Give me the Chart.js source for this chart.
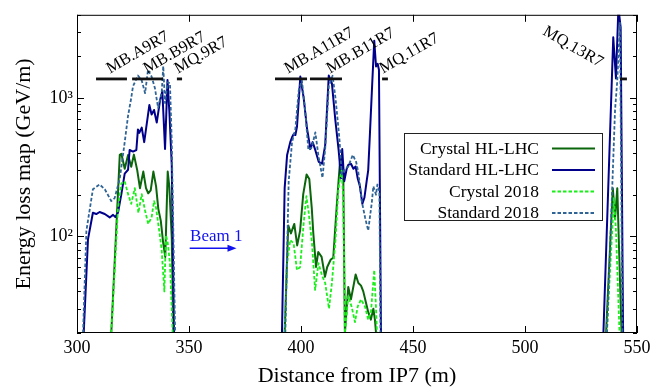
<!DOCTYPE html>
<html><head><meta charset="utf-8">
<script src="https://cdn.jsdelivr.net/npm/chart.js@4"></script>
<style>html,body{margin:0;padding:0;background:#fff}#wrap{width:665px;height:388px}</style>
</head><body><div id="wrap"><canvas id="c" width="665" height="388"></canvas></div>
<script>
const FONT = "'Liberation Serif','Times New Roman',serif";

// ---- Data (x: distance from IP7 in m, y: energy loss in GeV/m; null breaks the line) ----
const stdHlX = [303.0,304.9,307.1,308.6,310.1,312.4,314.6,316.1,317.1,318.3,319.8,321.3,322.8,323.5,325.0,326.5,327.2,327.8,328.9,330.0,332.3,333.3,334.4,335.6,337.1,338.1,339.3,340.4,341.2,342.3,343.3,
  365,
  391.5,392.7,393.8,395.2,396.0,396.7,397.5,398.2,399.7,401.2,402.7,404.2,405.2,406.4,407.9,409.4,410.8,412.4,413.8,415.3,416.8,417.9,418.4,419.3,420.4,421.1,422.3,423.4,424.4,425.3,426.3,427.4,428.3,429.3,430.0,430.8,431.8,432.7,433.5,434.2,434.8,435.7,
  480,
  535.0,539.4,540.6,541.7,542.7,543.8];
const stdHlY = [20,95,148,145,150,145,137,143,138,148,202,284,303,421,410,421,593,560,612,480,890,760,820,665,970,1120,428,1350,822,329,20,
  null,
  20,223,388,480,520,547,540,620,1430,1000,600,428,480,420,346,335,457,1455,1278,700,420,263,428,250,308,329,335,308,320,263,230,172,190,250,300,565,1278,2600,1690,1770,1600,20,
  null,
  20,2750,1386,4500,3240,20];

const std18X = [302.7,304.2,307.1,310.1,312.4,315.3,316.8,319.1,321.3,322.8,324.2,325.0,327.2,328.9,330.4,331.7,333.3,334.8,336.2,337.8,338.5,339.3,340.4,341.5,342.3,343.8,
  365,
  393.0,394.5,396.0,397.5,399.0,400.4,401.9,403.3,404.8,406.4,407.8,409.6,410.8,412.4,414.1,415.4,417.1,418.2,419.6,421.1,423.1,424.6,425.6,427.1,428.6,430.0,431.6,432.3,433.5,434.1,435.0,435.5,
  480,
  536.6,540.2,541.2,542.4,543.5];
const std18Y = [20,110,219,237,219,180,189,262,480,745,1000,1216,1455,1340,1085,1600,1430,1177,850,1085,1700,920,1300,1280,480,20,
  null,
  20,250,480,600,1140,1340,800,421,440,565,380,265,430,1216,1450,1000,520,280,308,319,388,346,290,180,137,110,175,230,200,237,210,20,
  null,
  20,822,1340,3500,20];

const cryHlX = [315.3,317.5,319.1,319.8,321.3,322.8,324.2,325.4,326.9,328.1,329.6,330.8,331.8,332.9,334.1,335.3,336.3,337.4,338.5,339.4,340.5,341.2,342.3,343.0,
  365,
  392.7,394.3,395.5,397.0,398.3,399.6,401.0,402.5,403.7,404.8,405.5,406.7,407.7,409.2,410.7,411.7,413.3,414.4,415.9,417.4,418.2,418.9,419.6,421.1,422.3,424.4,425.6,426.8,427.8,428.9,430.0,431.2,432.3,433.0,433.5,
  480,
  536.2,539.2,540.2,541.2,543.1];
const cryHlY = [20,110,388,395,308,388,319,390,300,223,294,223,205,215,294,230,158,130,89,71,294,230,98,20,
  null,
  20,120,105,123,86,110,202,280,260,161,105,60,77,71,51,60,68,70,161,346,388,250,20,43,35,53,46,44,40,33.6,28.4,25,30,25,20,
  null,
  20,223,134,223,20];

const cry18X = [315.3,318.3,319.8,321.3,322.8,324.2,325.8,327.4,328.9,330.4,331.8,333.3,334.4,335.3,336.7,337.8,339.0,339.7,340.5,341.5,342.7,
  365,
  392.7,393.8,395.2,396.7,398.2,399.6,401.1,402.4,403.4,404.9,406.3,407.8,409.4,410.8,412.5,413.8,415.4,416.7,418.1,418.9,419.6,421.1,422.6,424.1,425.3,426.8,428.6,430.0,431.2,432.7,433.5,433.9,
  480,
  536.5,539.7,540.6,542.2];
const cry18Y = [20,160,241,250,202,172,223,148,202,153,123,137,180,160,110,80,40,102,90,64,20,
  null,
  20,64,94,89,57,60,120,195,150,89,41,64,52,46,30,46,94,220,300,190,20,37,31,24,31,35,31,25,28,57,30,20,
  null,
  20,189,110,20];

const seriesNames = ['Crystal HL-LHC','Standard HL-LHC','Crystal 2018','Standard 2018'];

// magnet aperture markers
const magnetNames = ['MB.A9R7','MB.B9R7','MQ.9R7','MB.A11R7','MB.B11R7','MQ.11R7','MQ.13R7'];
const magnetStart = [308.5,324.6,344.6,388.4,404.0,436.2,542.4];
const magnetEnd   = [322.3,338.4,346.9,402.7,418.3,438.8,545.5];
const magnetLevel = 1375;
const labelX = [314.7,331.3,345.1,394.2,412.9,436.6,507.6];
const labelY = [1500,1500,1500,1500,1500,1500,2900];
const labelAngle = [-30,-30,-30,-30,-30,-30,30];

const xTickValues = [300,350,400,450,500,550];
const yMin = 20, yMax = 4000;

function pts(xs, ys){ return xs.map((v,i)=>({x:v, y:ys[i]})); }

const styles = [
  {color:'#0b660b', width:2, dash:[]},
  {color:'#00008b', width:2, dash:[]},
  {color:'#19f019', width:1.8, dash:[3.5,2]},
  {color:'#2f6496', width:1.8, dash:[3.5,2]}
];
const seriesData = [pts(cryHlX,cryHlY), pts(stdHlX,stdHlY), pts(cry18X,cry18Y), pts(std18X,std18Y)];

const datasets = seriesNames.map((n,i)=>({
  label:n, data:seriesData[i], borderColor:styles[i].color, backgroundColor:styles[i].color,
  borderWidth:styles[i].width, borderDash:styles[i].dash, pointRadius:0, tension:0,
  spanGaps:false, fill:false, clip:0, borderJoinStyle:'round', order: 10-i
}));

const decor = {
  id:'decor',
  afterDatasetsDraw(chart){
    const {ctx, chartArea:a, scales:{x,y}} = chart;
    ctx.save();
    // magnet bars
    const yy = y.getPixelForValue(magnetLevel);
    ctx.strokeStyle='#111'; ctx.lineWidth=2.8; ctx.setLineDash([]);
    magnetNames.forEach((n,i)=>{
      ctx.beginPath();
      ctx.moveTo(x.getPixelForValue(magnetStart[i]), yy);
      ctx.lineTo(x.getPixelForValue(magnetEnd[i]), yy);
      ctx.stroke();
    });
    ctx.fillStyle='#000'; ctx.font='16.5px '+FONT; ctx.textAlign='left'; ctx.textBaseline='alphabetic';
    magnetNames.forEach((n,i)=>{
      ctx.save();
      ctx.translate(x.getPixelForValue(labelX[i]), y.getPixelForValue(labelY[i]));
      ctx.rotate(labelAngle[i]*Math.PI/180);
      ctx.fillText(n,0,0);
      ctx.restore();
    });
    // Beam 1 arrow
    ctx.fillStyle='#1212f0'; ctx.strokeStyle='#1212f0';
    ctx.font='17px '+FONT;
    ctx.fillText('Beam 1', x.getPixelForValue(350.5), y.getPixelForValue(92));
    const ax0 = x.getPixelForValue(350.3), ax1 = x.getPixelForValue(371.2), ay = y.getPixelForValue(82);
    ctx.lineWidth=1.6;
    ctx.beginPath(); ctx.moveTo(ax0, ay); ctx.lineTo(ax1-6, ay); ctx.stroke();
    ctx.beginPath(); ctx.moveTo(ax1, ay); ctx.lineTo(ax1-9, ay-3.5); ctx.lineTo(ax1-9, ay+3.5); ctx.closePath(); ctx.fill();
    // legend
    const L=404, T=133, R=603, B=221;
    ctx.fillStyle='#fff'; ctx.fillRect(L,T,R-L,B-T);
    ctx.strokeStyle='#222'; ctx.lineWidth=1; ctx.strokeRect(L+0.5,T+0.5,R-L-1,B-T-1);
    ctx.font='17.5px '+FONT; ctx.textAlign='right'; ctx.textBaseline='middle';
    chart.data.datasets.forEach((d,i)=>{
      const cy = 148 + i*21.5;
      ctx.fillStyle='#000'; ctx.fillText(d.label, 539, cy+1);
      ctx.strokeStyle=d.borderColor; ctx.lineWidth=d.borderWidth; ctx.setLineDash(d.borderDash);
      ctx.beginPath(); ctx.moveTo(552, cy+0.5); ctx.lineTo(595, cy+0.5); ctx.stroke();
      ctx.setLineDash([]);
    });
    // frame and inward ticks
    ctx.strokeStyle='#000'; ctx.lineWidth=1;
    ctx.strokeRect(a.left+0.5, a.top+0.5, a.right-a.left-1, a.bottom-a.top-1);
    ctx.beginPath();
    xTickValues.forEach(v=>{
      const px = Math.round(x.getPixelForValue(v))+0.5;
      ctx.moveTo(px, a.bottom); ctx.lineTo(px, a.bottom-7);
      ctx.moveTo(px, a.top); ctx.lineTo(px, a.top+7);
    });
    [10,100,1000].forEach(d=>{
      for(let m=1;m<=9;m++){
        const v=m*d; if(v<yMin||v>yMax) continue;
        const len = m===1?7:4;
        const py = Math.round(y.getPixelForValue(v))+0.5;
        ctx.moveTo(a.left, py); ctx.lineTo(a.left+len, py);
        ctx.moveTo(a.right, py); ctx.lineTo(a.right-len, py);
      }
    });
    ctx.stroke();
    ctx.restore();
  }
};

new Chart(document.getElementById('c'), {
  type:'line',
  data:{datasets},
  options:{
    responsive:false, animation:false, devicePixelRatio:1,
    layout:{padding:{top:10,right:28,left:0,bottom:0}},
    plugins:{legend:{display:false}, tooltip:{enabled:false}},
    scales:{
      x:{type:'linear', min:300, max:550,
        grid:{display:false, drawTicks:false}, border:{display:false},
        ticks:{stepSize:50, color:'#000', font:{family:FONT,size:18}, padding:4, autoSkip:false, maxRotation:0},
        title:{display:true, text:'Distance from IP7 (m)', color:'#000', font:{family:FONT,size:22,lineHeight:1.1}, padding:{top:0,bottom:0}},
        afterFit(s){ s.height = 55; }
      },
      y:{type:'logarithmic', min:yMin, max:yMax,
        grid:{display:false, drawTicks:false}, border:{display:false},
        ticks:{color:'#000', font:{family:FONT,size:18}, padding:4, autoSkip:false,
          callback:(v)=> v===100?'10²':(v===1000?'10³':'')},
        title:{display:true, text:'Energy loss map (GeV/m)', color:'#000', font:{family:FONT,size:22,lineHeight:1.2}, padding:{top:11,bottom:0}},
        afterFit(s){ s.width = 77; }
      }
    }
  },
  plugins:[decor]
});
</script>
</body></html>
